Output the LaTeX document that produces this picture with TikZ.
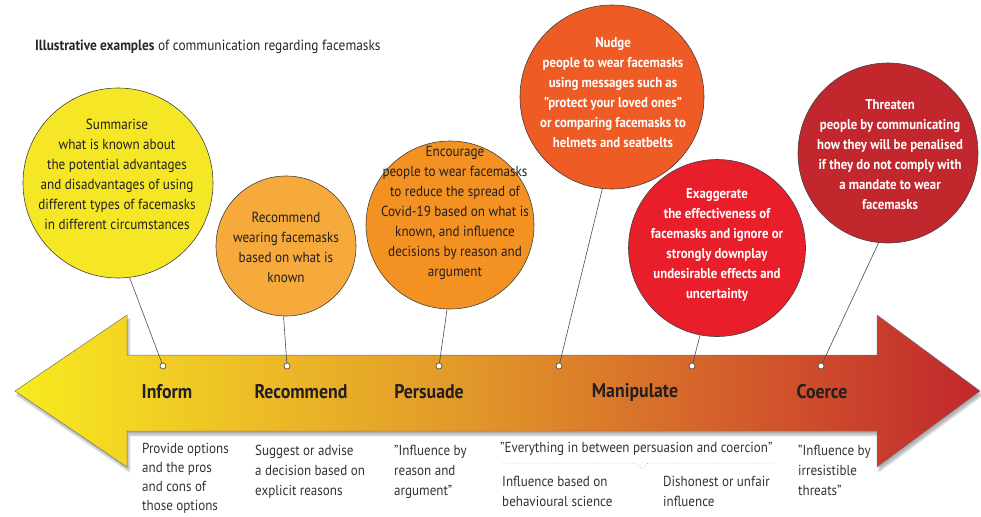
\documentclass[tikz,border=0pt]{standalone}
\usepackage{fontspec}
\setmainfont{PT Sans}[FakeStretch=0.9]
\usetikzlibrary{shadows.blur}
\definecolor{g1}{HTML}{F7EB1E}
\definecolor{g2}{HTML}{EDBC27}
\definecolor{g3}{HTML}{E09229}
\definecolor{g4}{HTML}{D35C2B}
\definecolor{g5}{HTML}{C1272D}
\definecolor{cy}{HTML}{F5E726}
\definecolor{cr}{HTML}{F6AA3C}
\definecolor{cp}{HTML}{F39222}
\definecolor{cn}{HTML}{EE5B25}
\definecolor{ce}{HTML}{E81E2A}
\definecolor{ct}{HTML}{C1272D}
\definecolor{ink}{HTML}{231F20}
\pgfdeclarehorizontalshading{arrowgrad}{100bp}{color(0bp)=(g1); color(25bp)=(g1); color(37.5bp)=(g2); color(50bp)=(g3); color(62.5bp)=(g4); color(75bp)=(g5); color(100bp)=(g5)}
\begin{document}
\begin{tikzpicture}[x=1pt,y=-1pt,
  bub/.style={circle, draw=black!75, line width=0.6pt, inner sep=0pt, minimum size=#1},
  ctext/.style={align=center, font=\fontsize{14.6}{20}\selectfont, text=ink, inner sep=0pt},
  wtext/.style={align=center, font=\bfseries\fontsize{14.2}{20}\selectfont, text=white, inner sep=0pt},
  dot/.style={circle, draw=black!75, fill=white, line width=0.6pt, inner sep=0pt, minimum size=6pt},
  conn/.style={draw=black!70, line width=0.6pt},
  lab/.style={font=\bfseries\fontsize{19.8}{22}\selectfont, text=ink, inner sep=0pt},
  btext/.style={align=left, anchor=north west, inner sep=0pt, font=\fontsize{14.5}{20}\selectfont, text=black!80}]
\useasboundingbox (0,0) rectangle (981,516);
% title
\node[anchor=west, inner sep=0pt, font=\fontsize{14.8}{16}\selectfont, text=black!85] (title) at (35,47) {\textbf{Illustrative examples} of communication regarding facemasks};
% arrow
\path[blur shadow={shadow xshift=2pt, shadow yshift=-4pt, shadow opacity=30, shadow blur steps=6}, shading=arrowgrad, draw=black!55, line width=0.5pt]
  (15,391) -- (127,315) -- (127,355) -- (877,355) -- (877,315) -- (980,391) -- (877,467) -- (877,431) -- (127,431) -- (127,467) -- cycle;
% dots
\node[dot] (d1) at (163,366) {};
\node[dot] (d2) at (287,366) {};
\node[dot] (d3) at (439,366) {};
\node[dot] (d4) at (559,366) {};
\node[dot] (d5) at (692,366) {};
\node[dot] (d6) at (821,366) {};
% labels on shaft
\node[lab] (l1) at (167,392) {Inform};
\node[lab] (l2) at (301,392) {Recommend};
\node[lab] (l3) at (429,392) {Persuade};
\node[lab] (l4) at (635,392) {Manipulate};
\node[lab] (l5) at (822,392) {Coerce};
% circles
\node[bub=190pt, fill=cy] (c1) at (118,183) {};
\node[ctext] (t1) at (117,174) {Summarise\\what is known about\\the potential advantages\\and disadvantages of using\\different types of facemasks\\in different circumstances};
\node[bub=140pt, fill=cr] (c2) at (286,246) {};
\node[ctext] (t2) at (286,247) {Recommend\\wearing facemasks\\based on what is\\known};
\node[bub=168pt, fill=cp] (c3) at (450,225) {};
\node[ctext] (t3) at (455,213) {Encourage\\people to wear facemasks\\to reduce the spread of\\Covid-19 based on what is\\known, and influence\\decisions by reason and\\argument};
\node[bub=184pt, fill=cn] (c4) at (612,97) {};
\node[wtext] (t4) at (613,93) {Nudge\\people to wear facemasks\\using messages such as\\"protect your loved ones"\\or comparing facemasks to\\helmets and seatbelts};
\node[bub=177pt, fill=ce] (c5) at (717,248) {};
\node[wtext] (t5) at (717,245) {Exaggerate\\the effectiveness of\\facemasks and ignore or\\strongly downplay\\undesirable effects and\\uncertainty};
\node[bub=180pt, fill=ct] (c6) at (888,153) {};
\node[wtext] (t6) at (890,155) {Threaten\\people by communicating\\how they will be penalised\\if they do not comply with\\a mandate to wear\\facemasks};
% connectors
\draw[conn] (c1.-83) -- (d1);
\draw[conn] (c2.-92) -- (d2);
\draw[conn] (c3.-92) -- (d3);
\draw[conn] (c4.-96) -- (d4);
\draw[conn] (c5.-101) -- (d5);
\draw[conn] (c6.-96) -- (d6);
% bottom texts
\node[btext, font=\fontsize{14.5}{19}\selectfont] (b1) at (142,443) {Provide options\\and the pros\\and cons of\\those options};
\node[btext] (b2) at (255,445) {Suggest or advise\\a decision based on\\explicit reasons};
\node[btext] (b3) at (394,445) {"Influence by\\reason and\\argument"};
\node[btext] (b4) at (500,442) {"Everything in between persuasion and coercion"};
\coordinate (v1) at (502,463);
\coordinate (v2) at (636,463);
\coordinate (v3) at (642,469);
\coordinate (v4) at (648,463);
\coordinate (v5) at (774,463);
\draw[black!45, line width=0.5pt, dotted] (v1) -- (v2) -- (v3) -- (v4) -- (v5);
\node[btext] (b5) at (502,476) {Influence based on\\behavioural science};
\node[btext] (b6) at (663,476) {Dishonest or unfair\\influence};
\node[btext] (b7) at (798,445) {"Influence by\\irresistible\\threats"};
\end{tikzpicture}
\end{document}
